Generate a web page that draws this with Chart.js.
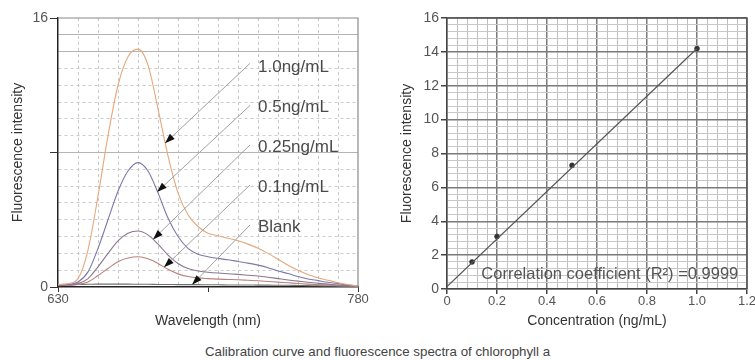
<!DOCTYPE html>
<html>
<head>
<meta charset="utf-8">
<script src="https://cdn.jsdelivr.net/npm/chart.js@4.4.1/dist/chart.umd.min.js"></script>
<style>
  body { margin: 0; background: #fff; }
  #wrap { position: relative; width: 755px; height: 360px; overflow: hidden; }
  .box { position: absolute; top: 0; width: 375px; height: 340px; }
  #caption {
    position: absolute; left: 0; top: 344px; width: 755px; text-align: center;
    font: 13.3px "Liberation Sans", Arial, sans-serif; color: #444;
  }
</style>
</head>
<body>
<div id="wrap">
  <div class="box" style="left:0"><canvas id="spectra"></canvas></div>
  <div class="box" style="left:380px"><canvas id="calib"></canvas></div>
  <div id="caption">Calibration curve and fluorescence spectra of chlorophyll a</div>
</div>
<script>
// --- spectra (left) ---
const wavelengths = [630, 635, 640, 645, 650, 655, 660, 665, 670, 675, 680, 685, 690, 695, 700, 705,
                     710, 715, 720, 725, 730, 735, 740, 745, 750, 755, 760, 765, 770, 775, 780];
const spec10 = [0.15, 0.2, 0.5, 2.2, 5.4, 9.0, 12.0, 13.7, 14.15, 13.2, 10.6, 7.8, 5.6, 4.3, 3.6, 3.2,
                3.05, 2.9, 2.75, 2.55, 2.3, 2.0, 1.65, 1.3, 1.0, 0.75, 0.55, 0.4, 0.25, 0.15, 0.05];
const spec05 = [0.12, 0.15, 0.3, 0.9, 2.3, 4.0, 5.7, 6.9, 7.4, 6.9, 5.6, 4.1, 3.0, 2.3, 1.95, 1.8,
                1.7, 1.62, 1.52, 1.42, 1.3, 1.15, 0.95, 0.8, 0.62, 0.48, 0.38, 0.28, 0.2, 0.12, 0.05];
const spec025 = [0.1, 0.12, 0.2, 0.5, 1.2, 2.0, 2.75, 3.2, 3.33, 3.1, 2.55, 1.9, 1.4, 1.1, 0.95, 0.88,
                 0.83, 0.79, 0.75, 0.7, 0.65, 0.58, 0.5, 0.42, 0.35, 0.28, 0.22, 0.17, 0.12, 0.08, 0.04];
const spec01 = [0.08, 0.1, 0.15, 0.3, 0.68, 1.1, 1.5, 1.72, 1.8, 1.68, 1.4, 1.05, 0.78, 0.62, 0.54, 0.5,
                0.47, 0.45, 0.43, 0.4, 0.37, 0.33, 0.29, 0.25, 0.21, 0.17, 0.14, 0.11, 0.08, 0.06, 0.04];
const specBlank = [0.14, 0.14, 0.15, 0.16, 0.17, 0.17, 0.17, 0.17, 0.16, 0.16, 0.15, 0.15, 0.14, 0.14, 0.14, 0.13,
                   0.13, 0.12, 0.12, 0.12, 0.11, 0.11, 0.1, 0.1, 0.09, 0.08, 0.07, 0.06, 0.05, 0.05, 0.04];
const specNames = ['1.0ng/mL', '0.5ng/mL', '0.25ng/mL', '0.1ng/mL', 'Blank'];
const specColors = ['#e6a87c', '#7d77aa', '#8a768e', '#b8827a', '#707070'];

// callouts: label text position, line start, arrow tip (data units)
const calloutLabelX = 730;
const calloutLabelY = [13.09, 10.71, 8.33, 5.95, 3.57];
const calloutStartX = 726;
const calloutStartY = [13.3, 10.8, 8.45, 6.07, 3.69];
const calloutTipX = [683.5, 679.5, 677.5, 683, 697];
const calloutTipY = [8.55, 5.65, 2.83, 1.17, 0.13];

const specXTicks = [630, 705, 780];
const specXLabels = ['630', '', '780'];
const specXGrid = [640, 650, 660, 670, 680, 690, 700, 710, 720, 730, 740, 750, 760, 770];
const specYTicks = [0, 8, 16];
const specYLabels = ['0', '', '16'];
const specYSolid = [8, 14, 15];

// --- calibration (right) ---
const concentration = [0.1, 0.2, 0.5, 1.0];
const intensity = [1.6, 3.1, 7.3, 14.2];
const fitX = [0, 1.0];
const fitY = [0.15, 14.2];
const calXLabels = ['0', '0.2', '0.4', '0.6', '0.8', '1.0', '1.2'];
const calYLabels = ['0', '2', '4', '6', '8', '10', '12', '14', '16'];

Chart.defaults.font.family = '"Liberation Sans", Arial, sans-serif';
Chart.defaults.color = '#555';
Chart.defaults.animation = false;

const framePlugin = {
  id: 'frame',
  afterDraw(chart, args, opts) {
    const { ctx, chartArea: a } = chart;
    ctx.save();
    ctx.strokeStyle = opts.color;
    ctx.lineWidth = opts.width;
    ctx.beginPath();
    ctx.moveTo(a.left, a.top);
    ctx.lineTo(a.right, a.top);
    ctx.lineTo(a.right, a.bottom);
    ctx.stroke();
    ctx.restore();
  }
};

const calloutPlugin = {
  id: 'callouts',
  afterDatasetsDraw(chart) {
    const { ctx, scales: { x, y } } = chart;
    ctx.save();
    specNames.forEach((name, i) => {
      const sx = x.getPixelForValue(calloutStartX), sy = y.getPixelForValue(calloutStartY[i]);
      const tx = x.getPixelForValue(calloutTipX[i]), ty = y.getPixelForValue(calloutTipY[i]);
      ctx.strokeStyle = '#a0a0a0';
      ctx.lineWidth = 1;
      ctx.beginPath();
      ctx.moveTo(sx, sy);
      ctx.lineTo(tx, ty);
      ctx.stroke();
      // arrow head
      const ang = Math.atan2(ty - sy, tx - sx);
      const len = 10, hw = 3.5;
      const bx = tx - Math.cos(ang) * len, by = ty - Math.sin(ang) * len;
      ctx.fillStyle = '#111';
      ctx.beginPath();
      ctx.moveTo(tx, ty);
      ctx.lineTo(bx - Math.sin(ang) * hw, by + Math.cos(ang) * hw);
      ctx.lineTo(bx + Math.sin(ang) * hw, by - Math.cos(ang) * hw);
      ctx.closePath();
      ctx.fill();
      ctx.fillStyle = '#4a4a4a';
      ctx.font = '17px "Liberation Sans", Arial, sans-serif';
      ctx.textBaseline = 'middle';
      ctx.fillText(name, x.getPixelForValue(calloutLabelX), y.getPixelForValue(calloutLabelY[i]));
    });
    ctx.restore();
  }
};

const r2Plugin = {
  id: 'r2',
  afterDatasetsDraw(chart) {
    const { ctx, scales: { x, y } } = chart;
    ctx.save();
    ctx.fillStyle = '#555';
    ctx.font = '16.5px "Liberation Sans", Arial, sans-serif';
    ctx.textAlign = 'right';
    ctx.textBaseline = 'middle';
    ctx.fillText('Correlation coefficient (R\u00b2) =0.9999', x.getPixelForValue(1.165), y.getPixelForValue(0.85));
    ctx.restore();
  }
};

const specDatasets = [spec10, spec05, spec025, spec01, specBlank].map((vals, i) => ({
  label: specNames[i],
  data: wavelengths.map((w, j) => ({ x: w, y: vals[j] })),
  borderColor: specColors[i],
  borderWidth: 1.1,
  pointRadius: 0,
  cubicInterpolationMode: 'monotone',
  fill: false
}));

new Chart(document.getElementById('spectra'), {
  type: 'line',
  data: { datasets: specDatasets },
  plugins: [framePlugin, calloutPlugin],
  options: {
    responsive: true,
    maintainAspectRatio: false,
    layout: { padding: { top: 18, right: 17, left: 0, bottom: 0 } },
    plugins: {
      legend: { display: false },
      tooltip: { enabled: false },
      frame: { color: '#8a8a8a', width: 1.2 }
    },
    scales: {
      x: {
        type: 'linear',
        min: 630,
        max: 780,
        afterBuildTicks: s => {
          s.ticks = specXTicks.concat(specXGrid).sort((a, b) => a - b).map(v => ({ value: v }));
        },
        afterFit: s => { s.height = 53; s.paddingLeft = 0; s.paddingRight = 0; },
        ticks: {
          autoSkip: false,
          maxRotation: 0,
          padding: 0,
          font: { size: 13 },
          color: '#555',
          callback: v => {
            const i = specXTicks.indexOf(v);
            return i >= 0 ? specXLabels[i] : '';
          }
        },
        grid: {
          tickLength: 5,
          color: c => (c.tick && specXGrid.includes(c.tick.value)) ? '#c8c8c8' : 'rgba(0,0,0,0)',
          tickColor: c => (c.tick && specXTicks.includes(c.tick.value)) ? '#333' : 'rgba(0,0,0,0)',
          lineWidth: 1
        },
        border: { color: '#222', width: 1.5, dash: [3, 3] },
        title: {
          display: true,
          text: 'Wavelength (nm)',
          color: '#333',
          font: { size: 14 },
          padding: { top: 0, bottom: 10 }
        }
      },
      y: {
        min: 0,
        max: 16,
        afterBuildTicks: s => {
          s.ticks = Array.from({ length: 17 }, (_, k) => ({ value: k }));
        },
        afterFit: s => { s.width = 58; s.paddingTop = 0; s.paddingBottom = 0; },
        ticks: {
          autoSkip: false,
          padding: 2,
          font: { size: 14 },
          color: '#555',
          callback: v => {
            const i = specYTicks.indexOf(v);
            return i >= 0 ? specYLabels[i] : '';
          }
        },
        grid: {
          tickLength: 8,
          color: c => {
            if (!c.tick || c.tick.value === 0 || c.tick.value === 16) return 'rgba(0,0,0,0)';
            return specYSolid.includes(c.tick.value) ? '#b4b4b4' : '#cccccc';
          },
          tickColor: c => (c.tick && specYTicks.includes(c.tick.value)) ? '#333' : 'rgba(0,0,0,0)',
          lineWidth: 1
        },
        border: {
          color: '#222',
          width: 1.5,
          dash: c => (c.tick && specYSolid.includes(c.tick.value)) ? [] : [3, 3]
        },
        title: {
          display: true,
          text: 'Fluorescence intensity',
          color: '#333',
          font: { size: 14 },
          padding: { top: 10, bottom: 0 }
        }
      }
    }
  }
});

new Chart(document.getElementById('calib'), {
  type: 'scatter',
  data: {
    datasets: [
      {
        label: 'fit',
        data: fitX.map((v, i) => ({ x: v, y: fitY[i] })),
        showLine: true,
        borderColor: '#555',
        borderWidth: 1.2,
        pointRadius: 0
      },
      {
        label: 'samples',
        data: concentration.map((v, i) => ({ x: v, y: intensity[i] })),
        pointRadius: 2.5,
        pointBackgroundColor: '#333',
        pointBorderColor: '#333',
        pointBorderWidth: 0.5
      }
    ]
  },
  plugins: [framePlugin, r2Plugin],
  options: {
    responsive: true,
    maintainAspectRatio: false,
    layout: { padding: { top: 18, right: 8, left: 0, bottom: 0 } },
    plugins: {
      legend: { display: false },
      tooltip: { enabled: false },
      frame: { color: '#555', width: 1.5 }
    },
    scales: {
      x: {
        type: 'linear',
        min: 0,
        max: 1.2,
        afterFit: s => { s.height = 51; s.paddingLeft = 0; s.paddingRight = 0; },
        ticks: {
          stepSize: 0.04,
          autoSkip: false,
          maxRotation: 0,
          padding: 0,
          font: { size: 13 },
          color: '#555',
          callback: v => {
            const k = Math.round(v / 0.2 * 1000) / 1000;
            return Number.isInteger(k) ? calXLabels[k] : '';
          }
        },
        grid: {
          tickLength: 5,
          color: c => {
            const k = Math.round(c.tick.value / 0.2 * 1000) / 1000;
            return Number.isInteger(k) ? '#7a7a7a' : '#c0c0c0';
          },
          lineWidth: c => {
            const k = Math.round(c.tick.value / 0.2 * 1000) / 1000;
            return Number.isInteger(k) ? 1.5 : 1;
          },
          tickColor: c => {
            const k = Math.round(c.tick.value / 0.2 * 1000) / 1000;
            return Number.isInteger(k) ? '#444' : 'rgba(0,0,0,0)';
          }
        },
        border: { color: '#444', width: 1.5 },
        title: {
          display: true,
          text: 'Concentration (ng/mL)',
          color: '#333',
          font: { size: 14 },
          padding: { top: 0, bottom: 10 }
        }
      },
      y: {
        min: 0,
        max: 16,
        afterFit: s => { s.width = 67; s.paddingTop = 0; s.paddingBottom = 0; },
        ticks: {
          stepSize: 0.4,
          autoSkip: false,
          padding: 2,
          font: { size: 14 },
          color: '#555',
          callback: v => {
            const k = Math.round(v / 2 * 1000) / 1000;
            return Number.isInteger(k) ? calYLabels[k] : '';
          }
        },
        grid: {
          tickLength: 6,
          color: c => {
            const k = Math.round(c.tick.value / 2 * 1000) / 1000;
            return Number.isInteger(k) ? '#7a7a7a' : '#c8c8c8';
          },
          lineWidth: c => {
            const k = Math.round(c.tick.value / 2 * 1000) / 1000;
            return Number.isInteger(k) ? 1.5 : 1;
          },
          tickColor: c => {
            const k = Math.round(c.tick.value / 2 * 1000) / 1000;
            return Number.isInteger(k) ? '#444' : 'rgba(0,0,0,0)';
          }
        },
        border: { color: '#444', width: 1.5 },
        title: {
          display: true,
          text: 'Fluorescence intensity',
          color: '#333',
          font: { size: 14 },
          padding: { top: 19, bottom: 0 }
        }
      }
    }
  }
});
</script>
</body>
</html>
